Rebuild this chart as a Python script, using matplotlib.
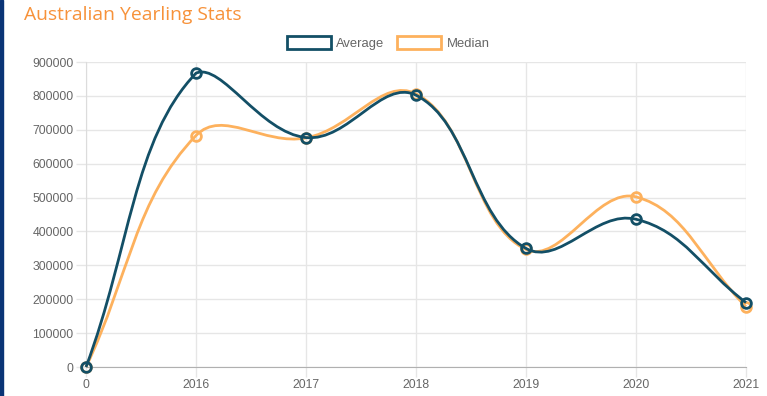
import numpy as np
import matplotlib.pyplot as plt
from matplotlib.path import Path
from matplotlib.patches import PathPatch, Patch, Rectangle

labels = ['0', '2016', '2017', '2018', '2019', '2020', '2021']
average = [0, 867000, 677000, 802000, 350000, 436000, 190000]
median = [0, 683000, 676000, 806000, 347000, 502000, 178000]

avg_color = '#134f66'
med_color = '#fdb15d'
grid_color = '#e6e6e6'
text_color = '#666666'

W, H, dpi = 767, 396, 100
left, right, top, bottom = 86, 746, 62, 367


def bezier_path(xs, ys, xscale, yscale, t=0.4):
    # chart.js style spline, computed in pixel space
    px = np.array(xs, float) * xscale
    py = np.array(ys, float) * yscale
    n = len(px)
    cps = []
    for i in range(n):
        pi = max(i - 1, 0)
        ni = min(i + 1, n - 1)
        d01 = np.hypot(px[i] - px[pi], py[i] - py[pi])
        d12 = np.hypot(px[ni] - px[i], py[ni] - py[i])
        tot = d01 + d12
        s01 = d01 / tot if tot else 0
        s12 = d12 / tot if tot else 0
        dx, dy = px[ni] - px[pi], py[ni] - py[pi]
        prev_cp = (px[i] - t * s01 * dx, py[i] - t * s01 * dy)
        next_cp = (px[i] + t * s12 * dx, py[i] + t * s12 * dy)
        cps.append((prev_cp, next_cp))
    verts = [(px[0], py[0])]
    codes = [Path.MOVETO]
    for i in range(1, n):
        c1 = cps[i - 1][1]
        c2 = cps[i][0]
        verts += [c1, c2, (px[i], py[i])]
        codes += [Path.CURVE4] * 3
    verts = [(x / xscale, min(max(y / yscale, 0), 900000)) for x, y in verts]
    return Path(verts, codes)


fig = plt.figure(figsize=(W / dpi, H / dpi), dpi=dpi)
ax = fig.add_axes([left / W, 1 - bottom / H, (right - left) / W, (bottom - top) / H])

x = np.arange(len(labels))
ax.set_xlim(0, len(labels) - 1)
ax.set_ylim(0, 900000)

xscale = (right - left) / (len(labels) - 1)
yscale = (bottom - top) / 900000

for data, col, z in [(median, med_color, 3), (average, avg_color, 4)]:
    ax.add_patch(PathPatch(bezier_path(x, data, xscale, yscale), facecolor='none',
                           edgecolor=col, lw=2, zorder=z, clip_on=False))
    ax.plot(x, data, linestyle='none', marker='o', ms=7, mfc='none', mec=col,
            mew=2, zorder=z + 1, clip_on=False)

ax.set_xticks(x)
ax.set_xticklabels(labels)
ax.set_yticks(np.arange(0, 900001, 100000))
ax.set_yticklabels([str(v) for v in range(0, 900001, 100000)])
ax.grid(True, color=grid_color, lw=1)
ax.set_axisbelow(True)
for s in ['top', 'right']:
    ax.spines[s].set_visible(False)
ax.spines['left'].set_color('#dcdcdc')
ax.spines['bottom'].set_color('#b0b0b0')
ax.tick_params(axis='both', colors=grid_color, labelcolor=text_color,
               labelsize=8.8, length=7.5, width=1)
ax.tick_params(axis='y', pad=1.5)
ax.tick_params(axis='x', pad=1.5)
for lab in ax.get_xticklabels() + ax.get_yticklabels():
    lab.set_family('Liberation Sans')

fig.text(24 / W, 1 - 15 / H, 'Australian Yearling Stats', color='#f7923a',
         fontsize=13.9, family='Open Sans', va='center', ha='left')

handles = [Patch(facecolor='white', edgecolor=avg_color, lw=2, label='Average'),
           Patch(facecolor='white', edgecolor=med_color, lw=2, label='Median')]
fig.legend(handles=handles, loc='center', bbox_to_anchor=(388 / W, 1 - 43 / H),
           ncol=2, frameon=False, handlelength=3.4, handleheight=1.15,
           handletextpad=0.4, columnspacing=0.95,
           prop={'family': 'Liberation Sans', 'size': 9.4}, labelcolor=text_color)

# dark page border on the left
fig.patches.append(Rectangle((0, 0), 2.5 / W, 1, transform=fig.transFigure,
                             color='#0a3476', zorder=10))

fig.savefig('out.png', dpi=dpi)
